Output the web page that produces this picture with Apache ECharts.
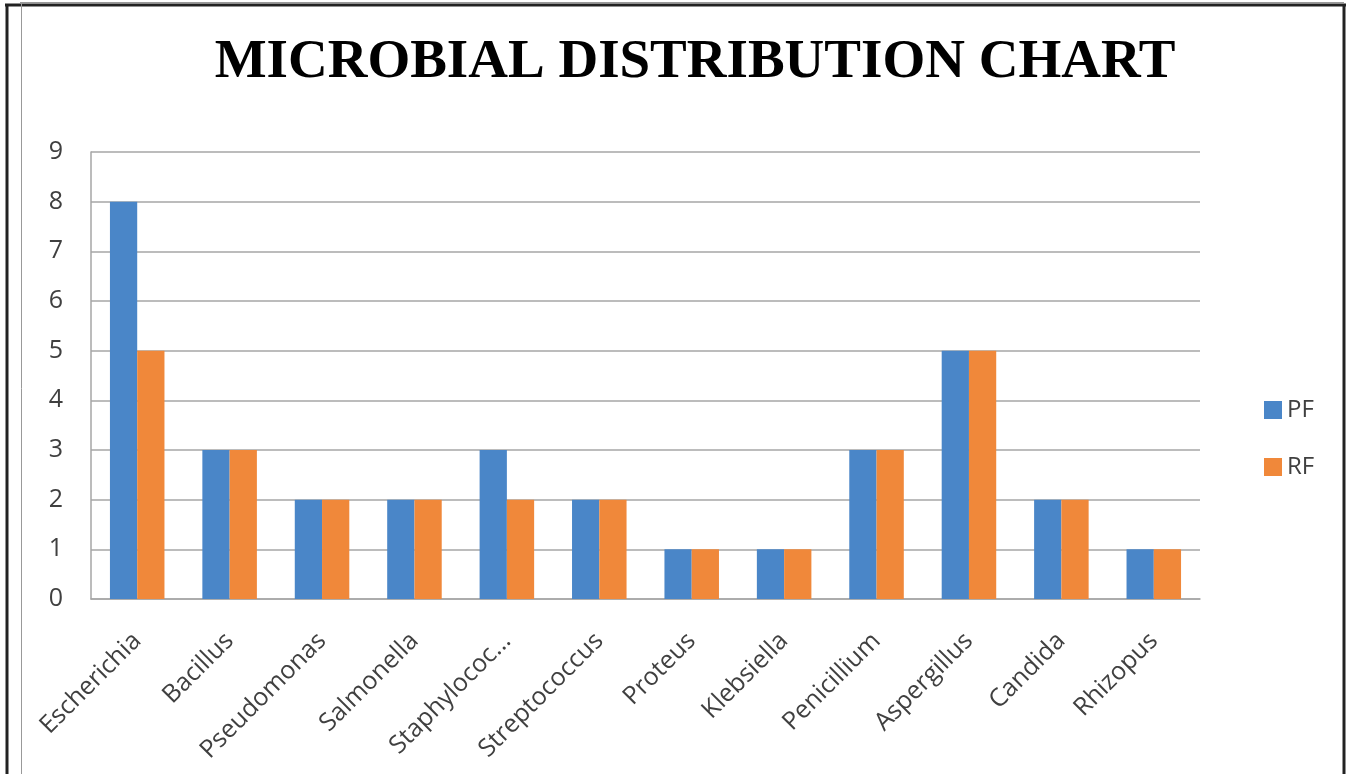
<!DOCTYPE html>
<html>
<head>
<meta charset="utf-8">
<title>Microbial Distribution Chart</title>
<script src="https://cdn.jsdelivr.net/npm/echarts@6/dist/echarts.min.js"></script>
<style>
  html, body { margin: 0; padding: 0; background: #fff; }
  #chart { width: 1347px; height: 774px; }
</style>
</head>
<body>
<div id="chart"></div>
<script>
var categories = ['Escherichia', 'Bacillus', 'Pseudomonas', 'Salmonella', 'Staphylococ...',
  'Streptococcus', 'Proteus', 'Klebsiella', 'Penicillium', 'Aspergillus', 'Candida', 'Rhizopus'];
var pfValues = [8, 3, 2, 2, 3, 2, 1, 1, 3, 5, 2, 1];
var rfValues = [5, 3, 2, 2, 2, 2, 1, 1, 3, 5, 2, 1];

var chart = echarts.init(document.getElementById('chart'));
chart.setOption({
  color: ['#4a86c8', '#f0883a'],
  animation: false,
  title: {
    text: 'MICROBIAL DISTRIBUTION CHART',
    left: 690,
    textAlign: 'center',
    top: 30,
    textStyle: {
      fontFamily: 'Liberation Serif',
      fontWeight: 'bold',
      fontSize: 55,
      color: '#000'
    }
  },
  legend: {
    orient: 'vertical',
    left: 1259,
    top: 393,
    itemWidth: 18,
    itemHeight: 18,
    itemGap: 33,
    icon: 'rect',
    textStyle: { fontSize: 24, color: '#404040', fontFamily: 'Open Sans' },
    data: ['PF', 'RF']
  },
  grid: { left: 91, right: 147, top: 152, bottom: 175 },
  xAxis: {
    type: 'category',
    data: categories,
    axisLine: { lineStyle: { color: '#a6a6a6', width: 1.5 } },
    axisTick: { show: false },
    axisLabel: {
      rotate: 45,
      interval: 0,
      margin: 38,
      fontSize: 25,
      color: '#404040',
      fontFamily: 'Open Sans'
    }
  },
  yAxis: {
    type: 'value',
    min: 0,
    max: 9,
    interval: 1,
    axisLine: { show: true, lineStyle: { color: '#a6a6a6', width: 1.5 } },
    axisTick: { show: false },
    splitLine: { lineStyle: { color: '#a6a6a6', width: 1.5 } },
    axisLabel: { fontSize: 25, color: '#404040', margin: 28, fontFamily: 'Open Sans' }
  },
  series: [
    { name: 'PF', type: 'bar', data: pfValues, barGap: '0%', barCategoryGap: '41%' },
    { name: 'RF', type: 'bar', data: rfValues, barGap: '0%', barCategoryGap: '41%' }
  ],
  graphic: [
    { type: 'line', shape: { x1: 7, y1: 4, x2: 7, y2: 774 }, style: { stroke: '#222', lineWidth: 3 } },
    { type: 'line', shape: { x1: 5, y1: 5, x2: 1346, y2: 5 }, style: { stroke: '#222', lineWidth: 3 } },
    { type: 'line', shape: { x1: 1344, y1: 4, x2: 1344, y2: 774 }, style: { stroke: '#222', lineWidth: 3 } },
    { type: 'line', shape: { x1: 21.5, y1: 3, x2: 21.5, y2: 774 }, style: { stroke: '#999', lineWidth: 1 } },
    { type: 'line', shape: { x1: 20, y1: 2.5, x2: 1344, y2: 2.5 }, style: { stroke: '#999', lineWidth: 1 } }
  ]
});
</script>
</body>
</html>
